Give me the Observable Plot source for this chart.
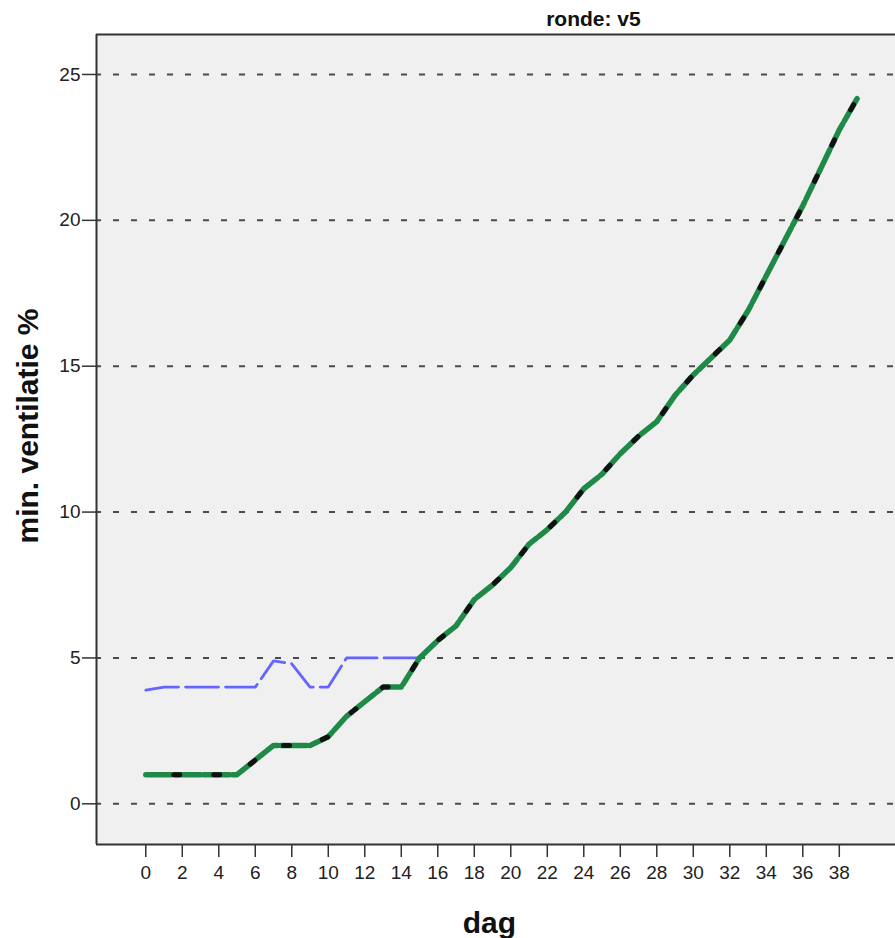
<!DOCTYPE html>
<html>
<head>
<meta charset="utf-8">
<script src="https://cdn.jsdelivr.net/npm/d3@7"></script>
<script src="https://cdn.jsdelivr.net/npm/@observablehq/plot@0.6"></script>
<style>
  html, body { margin: 0; padding: 0; background: #ffffff; overflow: hidden; }
  #chart { width: 895px; height: 938px; overflow: hidden; }
</style>
</head>
<body>
<div id="chart"></div>
<script>
// ---- data ----
const days = [0,1,2,3,4,5,6,7,8,9,10,11,12,13,14,15,16,17,18,19,20,21,22,23,24,25,26,27,28,29,30,31,32,33,34,35,36,37,38,39];
const redValues   = [1,1,1,1,1,1,1.5,2,2,2,2.3,3,3.5,4,4,5,5.6,6.1,7,7.5,8.1,8.9,9.4,10,10.8,11.3,12,12.6,13.1,14,14.7,15.3,15.9,16.9,18.1,19.3,20.5,21.8,23.1,24.2];
const greenValues = [1,1,1,1,1,1,1.5,2,2,2,2.3,3,3.5,4,4,5,5.6,6.1,7,7.5,8.1,8.9,9.4,10,10.8,11.3,12,12.6,13.1,14,14.7,15.3,15.9,16.9,18.1,19.3,20.5,21.8,23.1,24.2];
const blackValues = [1,1,1,1,1,1,1.5,2,2,2,2.3,3,3.5,4,4,5,5.6,6.1,7,7.5,8.1,8.9,9.4,10,10.8,11.3,12,12.6,13.1,14,14.7,15.3,15.9,16.9,18.1,19.3,20.5,21.8,23.1,24.2];
const blueValues  = [3.9,4,4,4,4,4,4,4.9,4.8,4,4,5,5,5,5,5,5.6,6.1,7,7.5,8.1,8.9,9.4,10,10.8,11.3,12,12.6,13.1,14,14.7,15.3,15.9,16.9,18.1,19.3,20.5,21.8,23.1,24.2];
const xTicks = [0,2,4,6,8,10,12,14,16,18,20,22,24,26,28,30,32,34,36,38];
const yTicks = [0,5,10,15,20,25];
const titleText = "ronde: v5";
const xLabel = "dag";
const yLabel = "min. ventilatie %";

const xDomain = [-2.70, 41.08];
const yDomain = [-1.395, 26.37];

const toRows = vals => days.map((d, i) => ({day: d, value: vals[i]}));

const font = "'Liberation Sans', Arial, Helvetica, sans-serif";

const chart = Plot.plot({
  width: 895,
  height: 938,
  marginLeft: 96,
  marginRight: 0,
  marginTop: 34,
  marginBottom: 94,
  style: {fontFamily: font, fontSize: "19px", background: "#ffffff", color: "#222"},
  x: {domain: xDomain, axis: null},
  y: {domain: yDomain, axis: null},
  marks: [
    Plot.frame({fill: "#f0f0f0", stroke: null}),
    Plot.ruleY(yTicks, {stroke: "#4a4a4a", strokeWidth: 2, strokeDasharray: "6,12", strokeDashoffset: 1}),
    Plot.line(toRows(redValues), {x: "day", y: "value", stroke: "#f25c5c", strokeWidth: 2}),
    Plot.line(toRows(blueValues), {x: "day", y: "value", stroke: "#6464ff", strokeWidth: 2.8, strokeDasharray: "33,7"}),
    Plot.line(toRows(greenValues), {x: "day", y: "value", stroke: "#1f8a48", strokeWidth: 5.5, strokeDasharray: "26,3"}),
    Plot.line(toRows(blackValues), {x: "day", y: "value", stroke: "#111", strokeWidth: 5, strokeDasharray: "6,34", strokeDashoffset: -28}),
    Plot.ruleX([xDomain[0]], {stroke: "#333", strokeWidth: 2}),
    Plot.ruleY([yDomain[0], yDomain[1]], {stroke: "#333", strokeWidth: 2}),
    Plot.axisX(xTicks, {tickSize: 13, tickPadding: 8, stroke: "#333", strokeWidth: 1.5, fontSize: 19, fill: "#222", label: null}),
    Plot.axisY(yTicks, {tickSize: 14, tickPadding: 2, stroke: "#333", strokeWidth: 1.5, fontSize: 19, fill: "#222", label: null}),
    Plot.text([titleText], {x: 24.53, frameAnchor: "top", dy: -15.4, lineAnchor: "middle", fontSize: 21, fontWeight: "bold", fill: "#111"}),
    Plot.text([xLabel], {x: 18.83, frameAnchor: "bottom", dy: 78.4, lineAnchor: "middle", fontSize: 30, fontWeight: "bold", fill: "#111"}),
    Plot.text([yLabel], {y: 12.95, frameAnchor: "left", dx: -68.6, rotate: -90, textAnchor: "middle", lineAnchor: "middle", fontSize: 30, fontWeight: "bold", fill: "#111"})
  ]
});
document.getElementById("chart").appendChild(chart);
</script>
</body>
</html>
